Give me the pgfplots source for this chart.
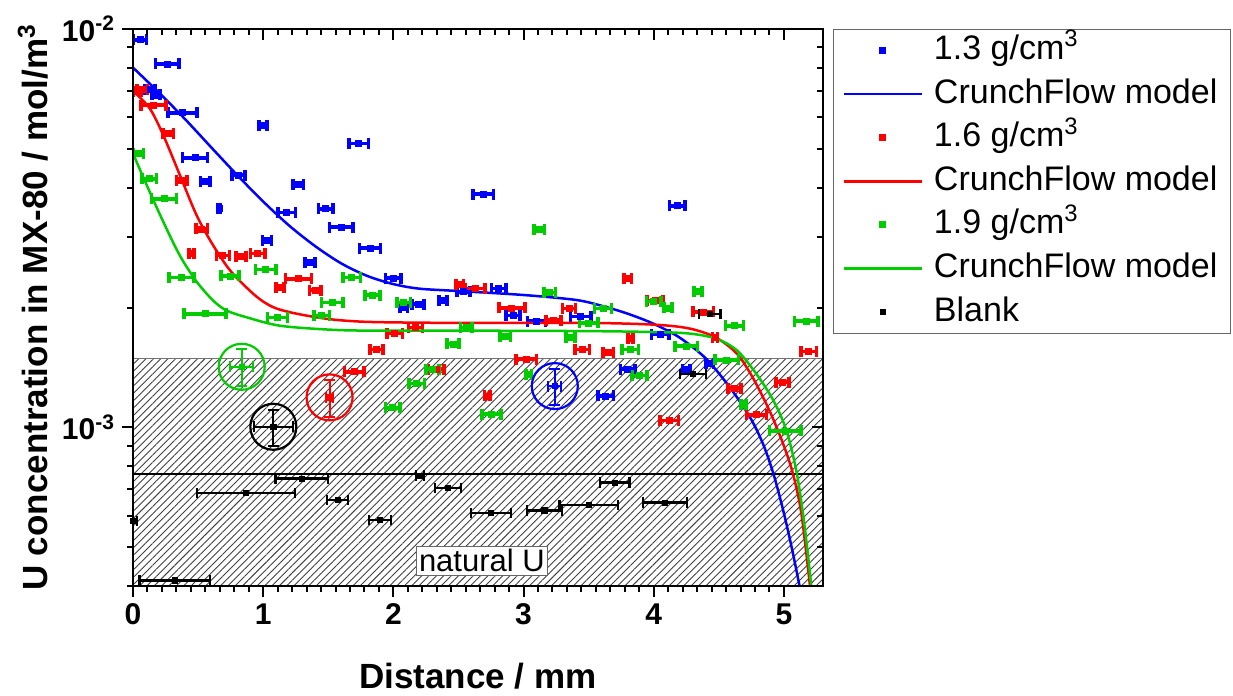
\documentclass[border=0pt]{standalone}
\usepackage{fontspec}
\setmainfont{Liberation Sans}
\usepackage{pgfplots}
\pgfplotsset{compat=1.18}
\usepackage{pgfplotstable}
\usetikzlibrary{patterns.meta}
\definecolor{cblue}{RGB}{0,0,255}
\definecolor{cred}{RGB}{255,0,0}
\definecolor{cgreen}{RGB}{0,204,0}

\pgfplotstableread{
x y ex
0.054 9.4e-3 0.05
0.263 8.17e-3 0.09
0.13 7.07e-3 0.04
0.177 6.83e-3 0.03
0.38 6.16e-3 0.11
1.00 5.74e-3 0.03
1.733 5.16e-3 0.075
0.476 4.75e-3 0.096
0.555 4.15e-3 0.036
0.81 4.30e-3 0.05
0.663 3.54e-3 0.01
1.27 4.07e-3 0.04
1.18 3.46e-3 0.067
1.48 3.54e-3 0.056
1.60 3.18e-3 0.09
1.03 2.95e-3 0.035
1.82 2.82e-3 0.08
1.36 2.60e-3 0.04
2.69 3.85e-3 0.08
2.00 2.37e-3 0.06
2.19 2.04e-3 0.047
2.38 2.08e-3 0.03
2.08 2.00e-3 0.03
2.54 2.19e-3 0.05
2.81 2.23e-3 0.055
2.92 1.91e-3 0.054
3.10 1.85e-3 0.07
3.44 1.90e-3 0.08
4.05 1.71e-3 0.068
4.18 3.60e-3 0.06
3.80 1.40e-3 0.055
3.63 1.20e-3 0.06
4.25 1.40e-3 0.03
4.43 1.45e-3 0.03
}\tblue

\pgfplotstableread{
x y ex
0.03 6.98e-3 0.03
0.07 7.07e-3 0.04
0.156 6.44e-3 0.096
0.27 5.47e-3 0.04
0.374 4.17e-3 0.04
0.527 3.15e-3 0.045
0.45 2.74e-3 0.02
0.69 2.70e-3 0.05
0.83 2.69e-3 0.04
0.958 2.73e-3 0.055
1.13 2.25e-3 0.03
1.27 2.36e-3 0.10
1.40 2.21e-3 0.045
2.17 1.78e-3 0.054
2.01 1.72e-3 0.06
1.87 1.57e-3 0.05
1.70 1.38e-3 0.075
2.33 1.40e-3 0.06
2.72 1.20e-3 0.02
3.02 1.485e-3 0.08
2.91 1.995e-3 0.10
3.23 1.86e-3 0.058
3.35 1.99e-3 0.05
3.45 1.57e-3 0.056
2.51 2.29e-3 0.03
2.63 2.23e-3 0.075
3.65 1.545e-3 0.04
3.80 2.36e-3 0.03
4.01 2.08e-3 0.06
4.38 1.95e-3 0.08
3.82 1.67e-3 0.02
4.47 1.68e-3 0.02
4.12 1.04e-3 0.07
4.62 1.256e-3 0.05
4.79 1.076e-3 0.077
4.99 1.30e-3 0.05
5.19 1.55e-3 0.06
}\tred

\pgfplotstableread{
x y ex
0.04 4.87e-3 0.04
0.125 4.21e-3 0.056
0.238 3.75e-3 0.095
0.374 2.38e-3 0.096
0.745 2.40e-3 0.07
1.02 2.49e-3 0.08
1.68 2.38e-3 0.067
1.53 2.06e-3 0.083
0.553 1.93e-3 0.16
1.11 1.89e-3 0.077
1.45 1.91e-3 0.058
3.12 3.14e-3 0.04
1.84 2.15e-3 0.056
2.08 2.06e-3 0.05
3.20 2.18e-3 0.045
2.56 1.78e-3 0.045
2.46 1.62e-3 0.046
2.86 1.69e-3 0.04
3.36 1.68e-3 0.035
3.50 1.83e-3 0.07
3.61 1.99e-3 0.064
2.30 1.40e-3 0.05
2.18 1.29e-3 0.058
1.995 1.12e-3 0.054
2.755 1.08e-3 0.073
3.04 1.36e-3 0.02
3.82 1.57e-3 0.064
4.00 2.07e-3 0.055
4.11 1.995e-3 0.03
4.34 2.20e-3 0.03
4.62 1.80e-3 0.07
4.25 1.60e-3 0.085
3.89 1.35e-3 0.058
4.56 1.477e-3 0.09
4.69 1.14e-3 0.02
5.01 9.8e-4 0.12
5.17 1.85e-3 0.09
}\tgreen

\pgfplotstableread{
x y ex
0.0 5.82e-4 0.03
0.32 4.13e-4 0.27
0.868 6.84e-4 0.375
1.296 7.44e-4 0.20
1.572 6.58e-4 0.08
1.897 5.86e-4 0.083
2.204 7.57e-4 0.03
2.42 7.05e-4 0.10
2.75 6.10e-4 0.154
3.16 6.19e-4 0.134
3.50 6.38e-4 0.224
3.70 7.27e-4 0.115
4.086 6.48e-4 0.17
4.30 1.36e-3 0.10
4.43 1.93e-3 0.083
}\tblack

\pgfplotsset{
  databar/.style={only marks, mark=square*, mark size=1.5pt, color=#1,
    error bars/x dir=both, error bars/x explicit,
    error bars/error bar style={line width=1.8pt, color=#1},
    error bars/error mark options={rotate=90, line width=1.8pt, mark size=2.75pt, color=#1}},
  circbar/.style={only marks, mark=square*, mark size=1.3pt, color=#1, forget plot,
    error bars/x dir=both, error bars/x explicit,
    error bars/y dir=both, error bars/y explicit,
    error bars/error bar style={line width=1pt, color=#1},
    error bars/error mark options={rotate=90, line width=1pt, mark size=2.75pt, color=#1}},
  ringmark/.style={only marks, mark=o, mark size=11.5pt, color=#1, forget plot,
    mark options={line width=1.1pt}},
}

\begin{document}
\begin{tikzpicture}
\begin{axis}[name=ax,
  width=345pt, height=278.5pt, scale only axis,
  xmin=0, xmax=5.3, ymode=log, ymin=4e-4, ymax=1e-2,
  xtick={0,1,2,3,4,5}, xticklabels={0,1,2,3,4,5}, minor x tick num=8,
  ytick={1e-3,1e-2}, yticklabels={10\textsuperscript{-3},10\textsuperscript{-2}},
  minor ytick={4e-4,5e-4,6e-4,7e-4,8e-4,9e-4,2e-3,3e-3,4e-3,5e-3,6e-3,7e-3,8e-3,9e-3},
  xtick pos=left, ytick pos=left, tick align=outside,
  major tick length=5.5pt, minor tick length=3pt,
  major tick style={line width=1pt, black}, minor tick style={line width=1pt, black},
  axis line style={line width=1pt},
  ticklabel style={font=\fontsize{15}{18}\selectfont\bfseries},
  xlabel={Distance / mm},
  ylabel={U concentration in MX-80 / mol/m\textsuperscript{3}},
  label style={font=\fontsize{17.5}{21}\selectfont\bfseries},
  xlabel style={at={(axis description cs:0.5,0)}, anchor=center, yshift=-45pt},
  ylabel style={at={(axis description cs:-0.145,0.5)}, anchor=center},
  legend cell align=left,
  legend style={at={(1,1)}, anchor=north west, xshift=5pt,
    draw=black!60, line width=0.5pt, inner xsep=4.5pt, inner ysep=0pt,
    row sep=0.8pt, column sep=3.5pt,
    font=\fontsize{17}{20}\selectfont,
    nodes={inner sep=2pt, text height=13pt, text depth=4pt}},
  legend image code/.code={\draw[mark repeat=2,mark phase=2,#1] plot coordinates {(0pt,0pt) (19.5pt,0pt) (39pt,0pt)};},
]
% natural U hatched area and blank line
\addplot[draw=black!55, line width=0.5pt, pattern={Lines[angle=45,distance=2.6pt,line width=0.45pt]}, pattern color=black!75, forget plot]
  coordinates {(0,4e-4) (0,1.49e-3) (5.3,1.49e-3) (5.3,4e-4)} -- cycle;
\addplot[black, line width=1pt, forget plot] coordinates {(0,7.65e-4) (5.3,7.65e-4)};

\addplot[databar=cblue] table[x=x, y=y, x error=ex] {\tblue};
\addlegendentry{1.3 g/cm\textsuperscript{3}}
\addplot[cblue, line width=1.25pt, smooth, no marks] coordinates {
(0,8.0e-3) (0.2,6.92e-3) (0.4,5.94e-3) (0.6,5.05e-3) (0.8,4.30e-3) (1.0,3.69e-3)
(1.2,3.21e-3) (1.4,2.85e-3) (1.6,2.58e-3) (1.8,2.40e-3) (2.0,2.29e-3) (2.2,2.23e-3)
(2.5,2.20e-3) (3.0,2.15e-3) (3.4,2.09e-3) (3.6,2.02e-3) (3.8,1.93e-3) (4.0,1.82e-3)
(4.2,1.68e-3) (4.4,1.49e-3) (4.585,1.26e-3) (4.74,1.06e-3) (4.84,9.08e-4) (4.92,7.64e-4)
(4.995,6.18e-4) (5.06,4.99e-4) (5.12,4.0e-4)};
\addlegendentry{CrunchFlow model}

\addplot[databar=cred] table[x=x, y=y, x error=ex] {\tred};
\addlegendentry{1.6 g/cm\textsuperscript{3}}
\addplot[cred, line width=1.25pt, smooth, no marks] coordinates {
(0,7.0e-3) (0.13,6.31e-3) (0.233,5.41e-3) (0.36,4.30e-3) (0.49,3.40e-3) (0.617,2.86e-3)
(0.745,2.48e-3) (0.9,2.2e-3) (1.0,2.07e-3) (1.1,1.99e-3) (1.257,1.93e-3) (1.51,1.87e-3)
(1.82,1.84e-3) (2.5,1.83e-3) (3.5,1.83e-3) (4.02,1.81e-3) (4.28,1.77e-3) (4.48,1.68e-3)
(4.64,1.53e-3) (4.76,1.335e-3) (4.89,1.10e-3) (4.995,9.08e-4) (5.07,7.64e-4) (5.135,6.05e-4)
(5.20,4.0e-4)};
\addlegendentry{CrunchFlow model}

\addplot[databar=cgreen] table[x=x, y=y, x error=ex] {\tgreen};
\addlegendentry{1.9 g/cm\textsuperscript{3}}
\addplot[cgreen, line width=1.25pt, smooth, no marks] coordinates {
(0,4.87e-3) (0.105,4.06e-3) (0.233,3.28e-3) (0.36,2.70e-3) (0.49,2.32e-3) (0.617,2.08e-3)
(0.72,1.965e-3) (0.873,1.89e-3) (1.13,1.80e-3) (1.51,1.76e-3) (1.82,1.75e-3) (2.5,1.75e-3)
(3.5,1.745e-3) (4.02,1.735e-3) (4.28,1.72e-3) (4.48,1.67e-3) (4.64,1.56e-3) (4.79,1.36e-3)
(4.92,1.167e-3) (5.02,9.81e-4) (5.10,7.64e-4) (5.16,5.61e-4) (5.21,4.0e-4)};
\addlegendentry{CrunchFlow model}

\addplot[only marks, mark=square*, mark size=1.3pt, black,
  error bars/.cd, x dir=both, x explicit,
  error bar style={line width=1.2pt, black},
  error mark options={rotate=90, line width=1.2pt, mark size=2.6pt, black}]
  table[x=x, y=y, x error=ex] {\tblack};
\addlegendentry{Blank}

% circled reference points
\addplot[circbar=cgreen] coordinates {(0.835,1.42e-3) +- (0.087,1.5e-4)};
\addplot[ringmark=cgreen] coordinates {(0.835,1.42e-3)};
\addplot[circbar=cred] coordinates {(1.51,1.19e-3) +- (0.025,1.25e-4)};
\addplot[ringmark=cred] coordinates {(1.51,1.19e-3)};
\addplot[circbar=black] coordinates {(1.078,1.004e-3) +- (0.15,1.05e-4)};
\addplot[ringmark=black] coordinates {(1.078,1.004e-3)};
\addplot[circbar=cblue] coordinates {(3.24,1.27e-3) +- (0.05,1.33e-4)};
\addplot[ringmark=cblue] coordinates {(3.24,1.27e-3)};

\node[draw=black!60, fill=white, line width=0.5pt, inner xsep=1.5pt, inner ysep=1.5pt,
  font=\fontsize{15.5}{18}\selectfont] at (axis cs:2.68,4.63e-4) {natural U};
\end{axis}
\begin{axis}[
  width=345pt, height=278.5pt, scale only axis,
  at={(ax.south west)}, anchor=south west,
  xmin=0, xmax=5.3, ymode=log, ymin=4e-4, ymax=1e-2,
  xtick={0,1,2,3,4,5}, xticklabels={}, minor x tick num=8,
  ytick={1e-3,1e-2}, yticklabels={},
  minor ytick={4e-4,5e-4,6e-4,7e-4,8e-4,9e-4,2e-3,3e-3,4e-3,5e-3,6e-3,7e-3,8e-3,9e-3},
  xtick pos=right, ytick pos=right, tick align=inside,
  major tick length=5.5pt, minor tick length=3pt,
  major tick style={line width=1pt, black}, minor tick style={line width=1pt, black},
  axis line style={line width=1pt},
]
\addplot[draw=none, forget plot] coordinates {(1,1e-3)};
\end{axis}
\pgfresetboundingbox
\path ([shift={(-66.5pt,-55pt)}]ax.south west) rectangle ([shift={(550pt,293pt)}]ax.south west);
\end{tikzpicture}
\end{document}
